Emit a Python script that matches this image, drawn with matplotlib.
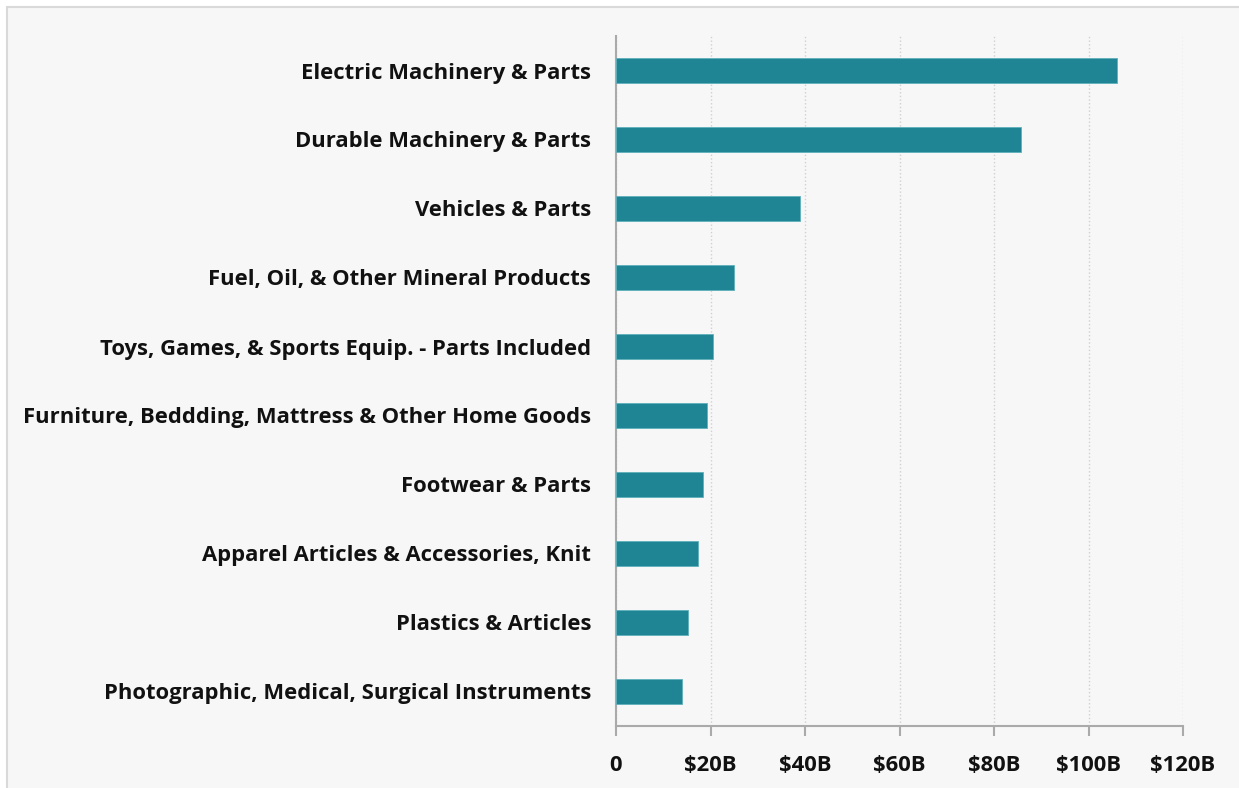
import matplotlib

matplotlib.use("Agg")
import matplotlib.pyplot as plt
from matplotlib.patches import Rectangle
from matplotlib.ticker import FuncFormatter

categories = [
    "Electric Machinery & Parts",
    "Durable Machinery & Parts",
    "Vehicles & Parts",
    "Fuel, Oil, & Other Mineral Products",
    "Toys, Games, & Sports Equip. - Parts Included",
    "Furniture, Beddding, Mattress & Other Home Goods",
    "Footwear & Parts",
    "Apparel Articles & Accessories, Knit",
    "Plastics & Articles",
    "Photographic, Medical, Surgical Instruments",
]
values_billion = [106.0, 85.7, 38.9, 25.0, 20.5, 19.3, 18.4, 17.4, 15.2, 14.0]
x_ticks = [0, 20, 40, 60, 80, 100, 120]

plt.rcParams["font.family"] = ["Open Sans", "DejaVu Sans"]
plt.rcParams["font.weight"] = "bold"

figure = plt.figure(figsize=(12.39, 7.88), dpi=100)
figure.patch.set_facecolor("white")
# light panel behind the chart, with its thin grey frame
figure.patches.append(
    Rectangle((7 / 1239, -0.01), 1.0, (788 - 7) / 788 + 0.01, transform=figure.transFigure,
              facecolor="#f7f7f7", edgecolor="#d9d9d9", linewidth=1.5, zorder=-10)
)

axis = figure.add_axes([616 / 1239, 62 / 788, 567 / 1239, 690 / 788])
axis.set_facecolor("#f7f7f7")

positions = list(range(len(categories)))
axis.barh(positions, values_billion, height=0.35, color="#1f8494",
          edgecolor="#5fb0bb", linewidth=0.6, zorder=3)

axis.set_ylim(len(categories) - 0.5, -0.5)
axis.set_yticks(positions)
axis.set_yticklabels(categories, fontsize=15.8, fontweight="bold", color="#111111")
axis.tick_params(axis="y", length=0, pad=18)

axis.set_xlim(0, 120)
axis.set_xticks(x_ticks)
axis.xaxis.set_major_formatter(FuncFormatter(lambda v, _: "0" if v == 0 else f"${v:.0f}B"))
for label in axis.get_xticklabels():
    label.set_fontsize(15.8)
    label.set_fontweight("bold")
    label.set_color("#111111")
axis.tick_params(axis="x", length=7, width=1.5, color="#aaaaaa", pad=14)

axis.grid(True, axis="x", linestyle=":", linewidth=1.0, color="#d0d0d0", zorder=0)
axis.set_axisbelow(True)
for side in ("top", "right"):
    axis.spines[side].set_visible(False)
for side in ("left", "bottom"):
    axis.spines[side].set_color("#aaaaaa")
    axis.spines[side].set_linewidth(1.5)

figure.savefig("out.png", dpi=100, facecolor=figure.get_facecolor())
